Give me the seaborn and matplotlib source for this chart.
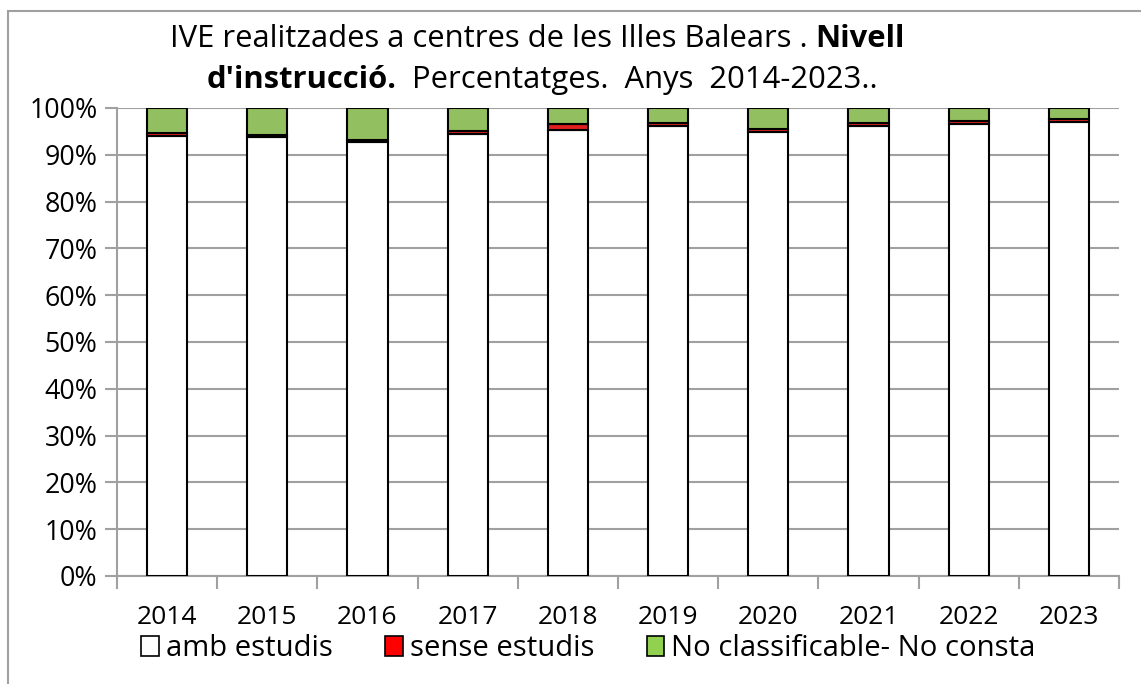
import numpy as np
import pandas as pd
import matplotlib.pyplot as plt
import seaborn as sns
from matplotlib.patches import Patch, Rectangle
from matplotlib.ticker import FixedLocator

# Dades (percentatges llegits del gràfic)
anys = ['2014', '2015', '2016', '2017', '2018', '2019', '2020', '2021', '2022', '2023']
amb_estudis = [94.0, 93.7, 92.8, 94.4, 95.3, 96.2, 94.9, 96.2, 96.6, 97.0]
sense_estudis = [0.6, 0.6, 0.3, 0.6, 1.2, 0.7, 0.7, 0.6, 0.6, 0.6]
no_consta = [5.4, 5.7, 6.9, 5.0, 3.5, 3.1, 4.4, 3.2, 2.8, 2.4]

sns.set_style('white')
plt.rcParams['font.family'] = ['Open Sans', 'Noto Sans', 'DejaVu Sans']
plt.rcParams['text.color'] = 'black'
plt.rcParams['xtick.color'] = 'black'
plt.rcParams['ytick.color'] = 'black'

df = pd.DataFrame({'any': anys, 'amb': amb_estudis, 'sense': sense_estudis, 'nc': no_consta})
df['base_nc'] = df['amb'] + df['sense']

W, H = 1141, 684
fig = plt.figure(figsize=(W / 100, H / 100), dpi=100)
ax = fig.add_axes([117 / W, 1 - 576 / H, (1119 - 117) / W, (576 - 108) / H])

kw = dict(edgecolor='black', linewidth=1.5, width=0.4, ax=ax, zorder=3)
sns.barplot(data=df, x='any', y='amb', color='white', **kw)
sns.barplot(data=df, x='any', y='sense', bottom=df['amb'], color='#ff0000', **kw)
sns.barplot(data=df, x='any', y='nc', bottom=df['base_nc'], color='#92d050', **kw)

ax.set_xlim(-0.5, 9.5)
ax.set_ylim(0, 100)
ax.set_yticks(np.arange(0, 101, 10))
ax.set_yticklabels([f'{v}%' for v in range(0, 101, 10)])
ax.yaxis.grid(True, color='#a0a0a0', linewidth=1.5, zorder=0)
ax.set_axisbelow(True)
ax.set_xlabel('')
ax.set_ylabel('')
for s in ['top', 'right']:
    ax.spines[s].set_visible(False)
for s in ['left', 'bottom']:
    ax.spines[s].set_color('#a0a0a0')
    ax.spines[s].set_linewidth(1.5)
ax.tick_params(axis='y', which='major', length=9, width=1.5, color='#a0a0a0',
               labelcolor='black', labelsize=19.3, pad=5, left=True)
ax.tick_params(axis='x', which='major', length=0, labelsize=19, labelcolor='black', pad=21)
ax.xaxis.set_minor_locator(FixedLocator(np.arange(-0.5, 10, 1)))
ax.tick_params(axis='x', which='minor', length=9, width=1.5, color='#a0a0a0', bottom=True)

# Marc exterior del gràfic
fig.add_artist(Rectangle((8 / W, -0.1), 1.2, 1.1 - 11 / H, transform=fig.transFigure,
                         fill=False, edgecolor='#a0a0a0', linewidth=1.5))

# Títol amb parts en negreta
fig.canvas.draw()
renderer = fig.canvas.get_renderer()


def linia(parts, y, cx):
    widths = []
    arts = []
    for txt, bold in parts:
        t = fig.text(0, y, txt, fontsize=22.3, fontweight='bold' if bold else 'normal',
                     va='center', ha='left', color='black')
        bb = t.get_window_extent(renderer)
        widths.append(bb.width)
        arts.append(t)
    x = cx - sum(widths) / 2
    for t, w in zip(arts, widths):
        t.set_x(x / W)
        x += w


linia([('IVE realitzades a centres de les Illes Balears . ', False), ('Nivell', True)],
      1 - 39 / H, 537)
linia([("d'instrucció.", True), ('  Percentatges.  Anys  2014-2023..', False)],
      1 - 80 / H, 542)

handles = [Patch(facecolor='white', edgecolor='black', linewidth=1.2),
           Patch(facecolor='#ff0000', edgecolor='black', linewidth=1.2),
           Patch(facecolor='#92d050', edgecolor='black', linewidth=1.2)]
fig.legend(handles, ['amb estudis', 'sense estudis', 'No classificable- No consta'],
           loc='center left', bbox_to_anchor=(141 / W, 1 - 649 / H), ncol=3, frameon=False,
           fontsize=21.1, handlelength=0.6, handleheight=0.68, handletextpad=0.25,
           columnspacing=1.78, borderaxespad=0, borderpad=0)

fig.savefig('out.png', dpi=100)
